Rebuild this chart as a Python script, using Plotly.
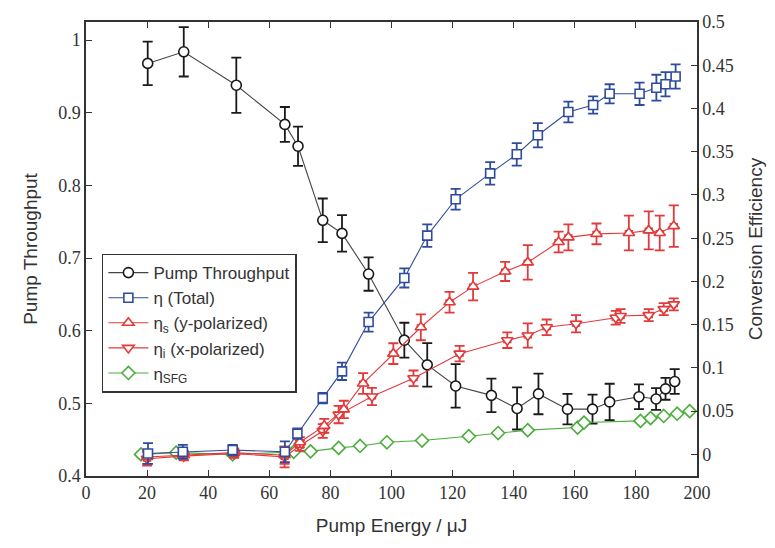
import plotly.graph_objects as go

# ---- data ----
pump_x = [20.2, 32, 49.2, 65.1, 69.4, 77.5, 83.8, 92.5, 104.2, 111.7, 121, 132.7, 141.1, 148.1, 157.6, 165.8, 171.4, 181, 186.6, 189.7, 192.7]
pump_y = [0.968, 0.984, 0.938, 0.884, 0.854, 0.752, 0.734, 0.678, 0.587, 0.553, 0.524, 0.511, 0.493, 0.513, 0.492, 0.492, 0.502, 0.509, 0.506, 0.520, 0.530]
pump_err = [0.030, 0.034, 0.038, 0.024, 0.027, 0.030, 0.025, 0.023, 0.024, 0.030, 0.030, 0.023, 0.029, 0.028, 0.021, 0.020, 0.025, 0.017, 0.015, 0.015, 0.017]

tot_x = [20.3, 31.7, 48, 65.1, 69.2, 77.5, 83.8, 92.5, 104.2, 111.7, 121, 132.3, 141, 147.9, 157.9, 166, 171.4, 181.2, 186.7, 189.7, 193]
tot_y = [0.001, 0.003, 0.005, 0.003, 0.024, 0.065, 0.096, 0.153, 0.204, 0.253, 0.295, 0.325, 0.347, 0.369, 0.396, 0.404, 0.417, 0.417, 0.424, 0.428, 0.437]
tot_err = [0.012, 0.008, 0.006, 0.012, 0.006, 0.006, 0.010, 0.011, 0.011, 0.013, 0.012, 0.013, 0.013, 0.014, 0.012, 0.010, 0.011, 0.013, 0.015, 0.014, 0.014]

sig_x = [20, 32, 48.5, 65, 70, 78, 84.4, 90.7, 100.6, 109.6, 119, 126.7, 137.2, 144.6, 154.7, 157.9, 167.1, 177.7, 184.2, 187.8, 192.4]
sig_y = [-0.003, -0.001, 0.002, -0.001, 0.014, 0.033, 0.052, 0.082, 0.1165, 0.147, 0.176, 0.194, 0.2115, 0.222, 0.2456, 0.251, 0.255, 0.256, 0.259, 0.256, 0.264]
sig_err = [0.008, 0.005, 0.005, 0.010, 0.006, 0.008, 0.010, 0.012, 0.012, 0.015, 0.012, 0.016, 0.011, 0.020, 0.012, 0.015, 0.012, 0.020, 0.022, 0.020, 0.024]

idl_x = [20, 32, 48.5, 65, 70, 77.5, 82.7, 93.6, 107.2, 122.3, 137.9, 144.6, 150.8, 160.4, 173.4, 175, 184.2, 189.1, 192.4]
idl_y = [-0.005, -0.002, 0.001, -0.003, 0.010, 0.027, 0.046, 0.067, 0.088, 0.1165, 0.132, 0.1375, 0.147, 0.151, 0.158, 0.160, 0.161, 0.168, 0.1735]
idl_err = [0.008, 0.005, 0.005, 0.012, 0.006, 0.008, 0.010, 0.010, 0.009, 0.009, 0.009, 0.014, 0.009, 0.010, 0.008, 0.008, 0.007, 0.007, 0.007]

sfg_x = [18, 29.5, 48, 68, 73.5, 82.7, 89.7, 98.5, 110, 125.3, 134.9, 144.6, 160.9, 163, 181.5, 184.8, 189.1, 193.5, 197.6]
sfg_y = [0.0, 0.002, 0.0, 0.003, 0.0035, 0.0075, 0.0097, 0.014, 0.016, 0.021, 0.0247, 0.028, 0.031, 0.0368, 0.0387, 0.042, 0.0444, 0.047, 0.050]

x_ticks = list(range(0, 201, 20))
left_ticks = [0.4, 0.5, 0.6, 0.7, 0.8, 0.9, 1.0]
left_labels = ["0.4", "0.5", "0.6", "0.7", "0.8", "0.9", "1"]
right_ticks = [0, 0.05, 0.1, 0.15, 0.2, 0.25, 0.3, 0.35, 0.4, 0.45, 0.5]
right_labels = ["0", "0.05", "0.1", "0.15", "0.2", "0.25", "0.3", "0.35", "0.4", "0.45", "0.5"]

BLACK = "#1a1a1a"
BLUE = "#2f4c9c"
RED = "#e23a3a"
GREEN = "#4aad3a"


def series(x, y, err, name, color, symbol, axis, size=9, linecolor=None):
    tr = dict(
        x=x, y=y, name=name, mode="lines+markers", yaxis=axis,
        line=dict(color=linecolor or color, width=1.1),
        marker=dict(symbol=symbol, size=size, color="white",
                    line=dict(color=color, width=1.6)),
    )
    if err is not None:
        tr["error_y"] = dict(type="data", array=err, visible=True,
                             color=color, thickness=1.8, width=5)
        tr["error_x"] = dict(type="constant", value=1.0, visible=True,
                             color=color, thickness=2.2, width=3)
    return go.Scatter(**tr)


fig = go.Figure()
fig.add_trace(series(sfg_x, sfg_y, None, "η<sub>SFG</sub>", GREEN, "diamond", "y2", size=10))
fig.add_trace(series(idl_x, idl_y, idl_err, "η<sub>i</sub> (x-polarized)", RED, "triangle-down", "y2", size=10))
fig.add_trace(series(sig_x, sig_y, sig_err, "η<sub>s</sub> (y-polarized)", RED, "triangle-up", "y2", size=10))
fig.add_trace(series(tot_x, tot_y, tot_err, "η (Total)", BLUE, "square", "y2"))
fig.add_trace(series(pump_x, pump_y, pump_err, "Pump Throughput", BLACK, "circle", "y", size=10, linecolor="#444"))

axis_common = dict(
    showgrid=False, zeroline=False, showline=True, linecolor="#333", linewidth=1.5,
    ticks="inside", ticklen=6, tickwidth=1.3, tickcolor="#333",
    tickfont=dict(family="Liberation Serif", size=18, color="#333"),
)
title_font = dict(family="Liberation Sans", size=19, color="#333")

fig.update_layout(
    width=775, height=548,
    margin=dict(l=86, r=75, t=15, b=72),
    paper_bgcolor="white", plot_bgcolor="white",
    font=dict(family="Liberation Sans", color="#333"),
    xaxis=dict(range=[0, 200], tickvals=x_ticks, mirror="ticks",
               title=dict(text="Pump Energy / μJ", font=title_font, standoff=16),
               **axis_common),
    yaxis=dict(range=[0.4, 1.025], tickvals=left_ticks, ticktext=left_labels,
               title=dict(text="Pump Throughput", font=title_font, standoff=16),
               **axis_common),
    yaxis2=dict(range=[-0.025, 0.5], tickvals=right_ticks, ticktext=right_labels,
                overlaying="y", side="right",
                title=dict(text="Conversion Efficiency", font=title_font, standoff=16),
                **axis_common),
    legend=dict(x=0.026, y=0.49, xanchor="left", yanchor="top",
                traceorder="reversed", bgcolor="white",
                bordercolor="#333", borderwidth=1.5,
                font=dict(family="Liberation Sans", size=17, color="#333"),
                itemwidth=40, tracegroupgap=0),
    showlegend=True,
)

fig.write_html("out.html", config={"displayModeBar": False},
               post_script="document.body.style.margin='0';document.body.style.overflow='hidden';")
